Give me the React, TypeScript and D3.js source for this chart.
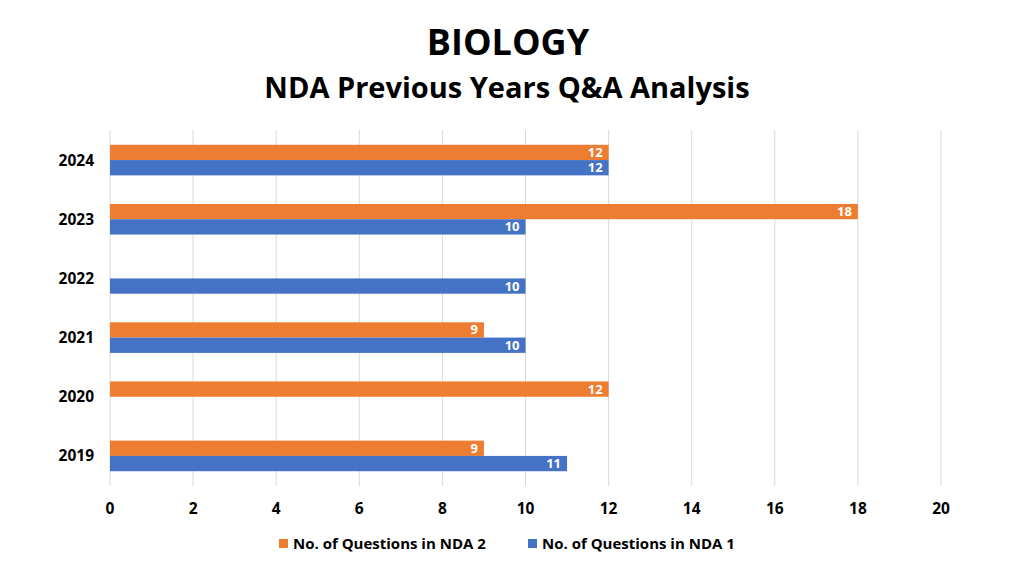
import React from "react";
import * as d3 from "d3";

const years = ["2024", "2023", "2022", "2021", "2020", "2019"];
const nda2: (number | null)[] = [12, 18, null, 9, 12, 9];
const nda1: (number | null)[] = [12, 10, 10, 10, null, 11];
const xTicks = [0, 2, 4, 6, 8, 10, 12, 14, 16, 18, 20];
const seriesNames = ["No. of Questions in NDA 2", "No. of Questions in NDA 1"];
const colors = ["#ED7D31", "#4472C4"];

export default function App() {
  const W = 1024, H = 570;
  const x = d3.scaleLinear().domain([0, 20]).range([110, 941]);
  const y = d3.scaleBand().domain(years).range([130.5, 485.5]).paddingInner(0.483).paddingOuter(0.2415);
  const bh = y.bandwidth() / 2;
  const font = "'Open Sans', 'Liberation Sans', sans-serif";
  const series = [nda2, nda1];
  return (
    <svg width={W} height={H} style={{ position: "absolute", left: 0, top: 0, fontFamily: font }}>
      <rect width={W} height={H} fill="#fff" />
      <text x={508} y={55} textAnchor="middle" fontSize={36} fontWeight={700} fill="#000">BIOLOGY</text>
      <text x={507} y={98} textAnchor="middle" fontSize={29} fontWeight={700} fill="#000">NDA Previous Years Q&amp;A Analysis</text>
      {xTicks.map((t) => (
        <line key={t} x1={x(t)} x2={x(t)} y1={130} y2={486} stroke="#d9d9d9" strokeWidth={1} />
      ))}
      {xTicks.map((t) => (
        <text key={"t" + t} x={x(t)} y={514} textAnchor="middle" fontSize={15.5} fontWeight={700} fill="#000">{t}</text>
      ))}
      {years.map((yr) => (
        <text key={yr} x={94} y={(y(yr) as number) + bh + 5.5} textAnchor="end" fontSize={15.5} fontWeight={700} fill="#000">{yr}</text>
      ))}
      {series.map((s, si) =>
        s.map((v, i) => {
          if (v == null) return null;
          const yy = (y(years[i]) as number) + si * bh;
          return (
            <g key={si + "-" + i}>
              <rect x={x(0)} y={yy} width={x(v) - x(0)} height={bh} fill={colors[si]} />
              <text x={x(v) - 6} y={yy + bh / 2 + 4.5} textAnchor="end" fontSize={13} fontWeight={700} fill="#fff">{v}</text>
            </g>
          );
        })
      )}
      {seriesNames.map((n, i) => {
        const lx = [279, 528][i];
        return (
          <g key={n}>
            <rect x={lx} y={539} width={9} height={9} fill={colors[i]} />
            <text x={lx + 14} y={549} fontSize={15} fontWeight={700} fill="#000">{n}</text>
          </g>
        );
      })}
    </svg>
  );
}
